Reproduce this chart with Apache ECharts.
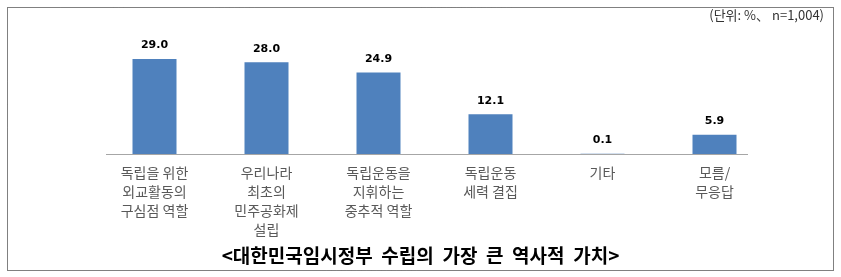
<!DOCTYPE html>
<html>
<head>
<meta charset="utf-8">
<style>
  html, body { margin: 0; padding: 0; background: #fff; }
  #chart { width: 841px; height: 277px; }
</style>
<script src="https://cdn.jsdelivr.net/npm/echarts@6/dist/echarts.min.js"></script>
</head>
<body>
<div id="chart"></div>
<script>
const categories = [
  '독립을 위한\n외교활동의\n구심점 역할',
  '우리나라\n최초의\n민주공화제\n설립',
  '독립운동을\n지휘하는\n중추적 역할',
  '독립운동\n세력 결집',
  '기타',
  '모름/\n무응답'
];
const values = [29.0, 28.0, 24.9, 12.1, 0.1, 5.9];
const titleText = '<대한민국임시정부  수립의  가장  큰  역사적  가치>';
const unitText = '(단위: %、 n=1,004)';

const chart = echarts.init(document.getElementById('chart'), null, { renderer: 'canvas' });
chart.setOption({
  animation: false,
  backgroundColor: '#ffffff',
  grid: { left: 98.5, width: 672, top: 55.75, bottom: 123, containLabel: false },
  xAxis: {
    type: 'category',
    data: categories,
    axisLine: { show: false },
    axisTick: { show: false },
    axisLabel: {
      interval: 0,
      margin: 9,
      color: '#595959',
      fontFamily: 'Noto Sans CJK KR',
      fontSize: 14,
      lineHeight: 19,
      verticalAlign: 'top'
    }
  },
  yAxis: {
    type: 'value',
    min: 0,
    max: 30,
    show: false,
    splitLine: { show: false }
  },
  series: [{
    type: 'bar',
    data: values,
    barWidth: 44,
    itemStyle: { color: '#4F81BD' },
    label: {
      show: true,
      position: 'top',
      distance: 8,
      color: '#000000',
      fontFamily: 'DejaVu Sans',
      fontWeight: 'bold',
      fontSize: 11,
      formatter: p => p.value.toFixed(1)
    }
  }],
  graphic: [
    {
      type: 'line',
      shape: { x1: 106, y1: 154.5, x2: 748, y2: 154.5 },
      style: { stroke: '#A6A6A6', lineWidth: 1 },
      z: 10
    },
    {
      type: 'rect',
      shape: { x: 7.5, y: 7.5, width: 826, height: 263 },
      style: { fill: null, stroke: '#000', lineWidth: 1, lineDash: [1, 1] },
      silent: true
    },
    {
      type: 'text',
      right: 17,
      top: 9,
      style: {
        text: unitText,
        fill: '#333333',
        fontFamily: 'Noto Sans CJK KR',
        fontSize: 13
      }
    },
    {
      type: 'text',
      left: 'center',
      top: 246,
      style: {
        text: titleText,
        fill: '#000000',
        fontFamily: 'Noto Sans CJK KR',
        fontWeight: 'bold',
        fontSize: 19
      }
    }
  ]
});
</script>
</body>
</html>
